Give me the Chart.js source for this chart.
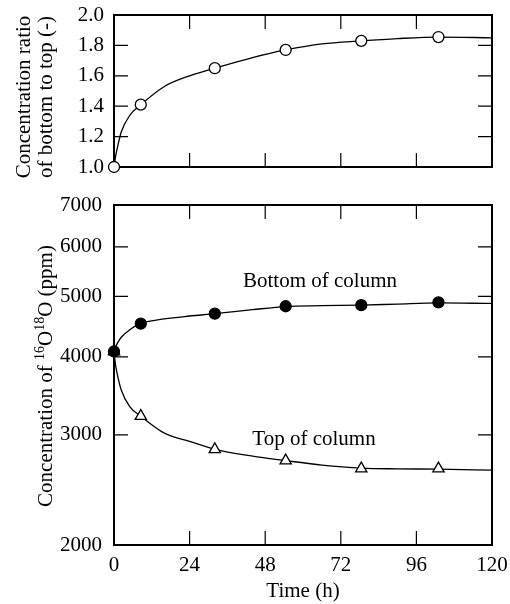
<!DOCTYPE html>
<html>
<head>
<meta charset="utf-8">
<script src="https://cdn.jsdelivr.net/npm/chart.js@4/dist/chart.umd.min.js"></script>
<style>
  body { margin: 0; background: #fff; }
  canvas { position: absolute; left: 0; }
  #ratioChart { top: 0; }
  #concChart { top: 190px; }
</style>
</head>
<body>
<canvas id="ratioChart" width="510" height="190"></canvas>
<canvas id="concChart" width="510" height="414"></canvas>
<script>
// measured points
const hours = [0, 8.5, 32, 54.5, 78.5, 103];
const ratio = [1.0, 1.41, 1.65, 1.77, 1.83, 1.855];
const bottomConc = [4080, 4520, 4690, 4820, 4840, 4890];
const topConc = [4080, 3215, 2845, 2730, 2650, 2650];

// fitted curves as drawn in the figure
const curveHours = [0, 0.5, 1, 2.3, 5, 8.5, 16, 24, 32, 44, 54.5, 66, 78.5, 90, 103, 120];
const ratioCurve = [1.0, 1.07, 1.12, 1.23, 1.34, 1.41, 1.53, 1.6, 1.65, 1.72, 1.77, 1.81, 1.83, 1.845, 1.855, 1.85];
const bottomCurve = [4080, 4150, 4200, 4300, 4420, 4520, 4600, 4650, 4690, 4760, 4815, 4830, 4840, 4860, 4880, 4870];
const topCurve = [4080, 3880, 3760, 3540, 3330, 3215, 3020, 2930, 2845, 2775, 2730, 2685, 2655, 2648, 2645, 2635];

const timeTicks = [0, 24, 48, 72, 96, 120];
const ratioTicks = [1.0, 1.2, 1.4, 1.6, 1.8, 2.0];
const concTicks = [2000, 3000, 4000, 5000, 6000, 7000];

const SERIF = '"Liberation Serif", "Times New Roman", serif';
Chart.defaults.font.family = SERIF;
Chart.defaults.font.size = 21;
Chart.defaults.color = '#000';

function pts(xs, ys) {
  return xs.map((x, i) => ({ x: x, y: ys[i] }));
}

// inward ticks on all four sides plus the box
function frame(chart, xt, yt) {
  const ctx = chart.ctx, a = chart.chartArea, x = chart.scales.x, y = chart.scales.y;
  const len = 14;
  ctx.save();
  ctx.strokeStyle = '#000';
  ctx.lineWidth = 1.2;
  ctx.beginPath();
  xt.forEach(v => {
    const px = x.getPixelForValue(v);
    ctx.moveTo(px, a.bottom); ctx.lineTo(px, a.bottom - len);
    ctx.moveTo(px, a.top); ctx.lineTo(px, a.top + len);
  });
  yt.forEach(v => {
    const py = y.getPixelForValue(v);
    ctx.moveTo(a.left, py); ctx.lineTo(a.left + len, py);
    ctx.moveTo(a.right, py); ctx.lineTo(a.right - len, py);
  });
  ctx.stroke();
  ctx.lineWidth = 2;
  ctx.strokeRect(a.left, a.top, a.right - a.left, a.bottom - a.top);
  ctx.restore();
}

// rotated title made of pieces, sup pieces raised and smaller
function rotatedTitle(ctx, parts, bx, cy) {
  ctx.save();
  ctx.fillStyle = '#000';
  ctx.textBaseline = 'alphabetic';
  ctx.textAlign = 'left';
  let total = 0;
  parts.forEach(p => {
    ctx.font = (p.sup ? 14 : 21) + 'px ' + SERIF;
    p.w = ctx.measureText(p.t).width;
    total += p.w;
  });
  ctx.translate(bx, cy);
  ctx.rotate(-Math.PI / 2);
  let pos = -total / 2;
  parts.forEach(p => {
    ctx.font = (p.sup ? 14 : 21) + 'px ' + SERIF;
    ctx.fillText(p.t, pos, p.sup ? -8 : 0);
    pos += p.w;
  });
  ctx.restore();
}

const ratioPlugin = {
  id: 'ratioDeco',
  beforeDatasetsDraw(chart) {
    frame(chart, timeTicks.slice(1, -1), ratioTicks.slice(1, -1));
    rotatedTitle(chart.ctx, [{ t: 'Concentration ratio' }], 30, 97);
    rotatedTitle(chart.ctx, [{ t: 'of bottom to top (-)' }], 52, 97);
  }
};

const concPlugin = {
  id: 'concDeco',
  beforeDatasetsDraw(chart) {
    frame(chart, timeTicks.slice(1, -1), concTicks.slice(1, -1));
    rotatedTitle(chart.ctx, [
      { t: 'Concentration of ' }, { t: '16', sup: true }, { t: 'O' },
      { t: '18', sup: true }, { t: 'O (ppm)' }
    ], 52, 186);
    const ctx = chart.ctx, x = chart.scales.x, y = chart.scales.y;
    ctx.save();
    ctx.font = '21px ' + SERIF;
    ctx.fillStyle = '#000';
    ctx.textAlign = 'center';
    ctx.textBaseline = 'middle';
    ctx.fillText('Bottom of column', x.getPixelForValue(65.4), y.getPixelForValue(5277));
    ctx.fillText('Top of column', x.getPixelForValue(63.5), y.getPixelForValue(2945));
    ctx.restore();
  }
};

const lineStyle = {
  showLine: true,
  pointRadius: 0,
  borderColor: '#000',
  borderWidth: 1.3,
  cubicInterpolationMode: 'monotone',
  order: 2
};

function markers(data, style, fill, r) {
  return {
    data: data,
    showLine: false,
    pointStyle: style,
    pointRadius: r,
    pointBackgroundColor: fill,
    pointBorderColor: '#000',
    pointBorderWidth: 1.3,
    clip: false,
    order: 1
  };
}

function xScale(showLabels) {
  return {
    type: 'linear',
    min: 0,
    max: 120,
    afterBuildTicks: s => { s.ticks = timeTicks.map(v => ({ value: v })); },
    ticks: { display: showLabels, padding: 8 },
    grid: { display: false, drawTicks: false },
    border: { display: false },
    title: { display: showLabels, text: 'Time (h)', padding: 0 },
    afterFit: s => {
      s.height = showLabels ? 59 : 23;
      s.paddingLeft = 0;
      s.paddingRight = 0;
    }
  };
}

function yFit(s) {
  s.width = 114;
  s.paddingTop = 0;
  s.paddingBottom = 0;
}

new Chart(document.getElementById('ratioChart'), {
  type: 'scatter',
  data: {
    datasets: [
      markers(pts(hours, ratio), 'circle', '#fff', 5.5),
      Object.assign({ data: pts(curveHours, ratioCurve) }, lineStyle)
    ]
  },
  options: {
    responsive: false,
    animation: false,
    devicePixelRatio: 1,
    layout: { padding: { top: 15, right: 18, left: 0, bottom: 0 } },
    plugins: { legend: { display: false }, tooltip: { enabled: false } },
    scales: {
      x: xScale(false),
      y: {
        min: 1,
        max: 2,
        afterBuildTicks: s => { s.ticks = ratioTicks.map(v => ({ value: v })); },
        ticks: { padding: 10, callback: v => v.toFixed(1) },
        grid: { display: false, drawTicks: false },
        border: { display: false },
        afterFit: yFit
      }
    }
  },
  plugins: [ratioPlugin]
});

new Chart(document.getElementById('concChart'), {
  type: 'scatter',
  data: {
    datasets: [
      markers(pts(hours, bottomConc), 'circle', '#000', 5.5),
      markers(pts(hours, topConc), 'triangle', '#fff', 6.5),
      Object.assign({ data: pts(curveHours, bottomCurve) }, lineStyle),
      Object.assign({ data: pts(curveHours, topCurve) }, lineStyle)
    ]
  },
  options: {
    responsive: false,
    animation: false,
    devicePixelRatio: 1,
    layout: { padding: { top: 15, right: 18, left: 0, bottom: 0 } },
    plugins: { legend: { display: false }, tooltip: { enabled: false } },
    scales: {
      x: xScale(true),
      y: {
        type: 'logarithmic',
        min: 2000,
        max: 7000,
        afterBuildTicks: s => { s.ticks = concTicks.map(v => ({ value: v })); },
        ticks: { padding: 12, callback: v => String(v) },
        grid: { display: false, drawTicks: false },
        border: { display: false },
        afterFit: yFit
      }
    }
  },
  plugins: [concPlugin]
});
</script>
</body>
</html>
